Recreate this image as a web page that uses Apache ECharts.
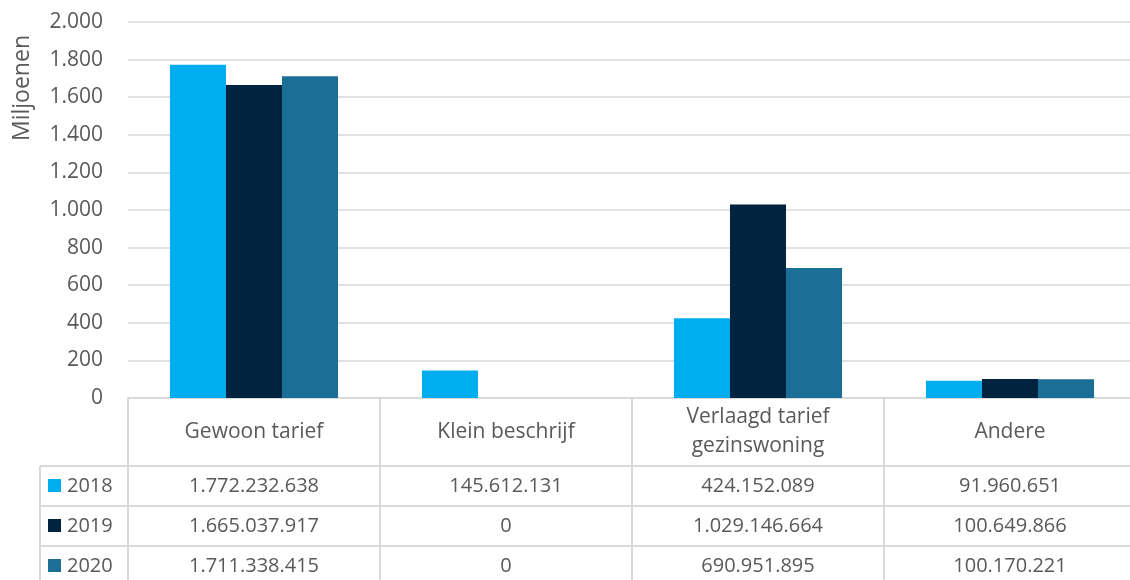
<!DOCTYPE html>
<html>
<head>
<meta charset="utf-8">
<script src="https://cdn.jsdelivr.net/npm/echarts@6/dist/echarts.min.js"></script>
<style>
html,body{margin:0;padding:0;background:#fff;}
#chart{width:1130px;height:580px;}
</style>
</head>
<body>
<div id="chart"></div>
<script>
const categories = ['Gewoon tarief', 'Klein beschrijf', 'Verlaagd tarief\ngezinswoning', 'Andere'];
const years = ['2018', '2019', '2020'];
const values2018 = [1772232638, 145612131, 424152089, 91960651];
const values2019 = [1665037917, 0, 1029146664, 100649866];
const values2020 = [1711338415, 0, 690951895, 100170221];
const colors = ['#00AEEF', '#00233F', '#1B6E96'];
const yMin = 0, yMax = 2000, yStep = 200;
const yName = 'Miljoenen';

const FONT = 'Open Sans';
const TXT = '#595959';
const LINE = '#D9D9D9';
const seriesValues = [values2018, values2019, values2020];

function fmt(n) {
  return String(Math.round(n)).replace(/\B(?=(\d{3})+(?!\d))/g, '.');
}

const chart = echarts.init(document.getElementById('chart'), null, {renderer: 'canvas'});

const gridLeft = 128, gridTop = 22, gridBottomY = 398, gridWidth = 1008;

chart.setOption({
  animation: false,
  textStyle: {fontFamily: FONT},
  grid: {left: gridLeft, top: gridTop, width: gridWidth, height: gridBottomY - gridTop,
         outerBoundsMode: 'none', containLabel: false},
  xAxis: {
    type: 'category',
    data: categories,
    axisLine: {show: true, lineStyle: {color: LINE, width: 2}},
    axisTick: {show: true, length: 182, lineStyle: {color: LINE, width: 2}},
    axisLabel: {
      color: TXT, fontFamily: FONT, fontSize: 21, lineHeight: 29,
      margin: 34, verticalAlign: 'middle', interval: 0
    }
  },
  yAxis: {
    type: 'value',
    min: yMin, max: yMax, interval: yStep,
    axisLine: {show: false},
    axisTick: {show: false},
    splitLine: {lineStyle: {color: LINE, width: 1.5}},
    axisLabel: {
      color: TXT, fontFamily: FONT, fontSize: 21, margin: 25,
      formatter: v => fmt(v)
    }
  },
  series: years.map((y, i) => ({
    name: y,
    type: 'bar',
    data: seriesValues[i].map(v => v / 1e6),
    itemStyle: {color: colors[i]},
    barGap: '0%',
    barCategoryGap: '33.3%'
  }))
});

// Data table under the chart
const rowLinesY = [466, 506, 546];
const rowCenters = [486, 526, 566];
const graphics = [];

// y-axis name
graphics.push({
  type: 'text', x: 22, y: 88, rotation: Math.PI / 2,
  style: {text: yName, fill: TXT, font: '23px "' + FONT + '"', align: 'center', verticalAlign: 'middle'}
});

rowLinesY.forEach(y => {
  graphics.push({type: 'line', shape: {x1: 40, y1: y, x2: gridLeft + gridWidth, y2: y},
    style: {stroke: LINE, lineWidth: 2}});
});
graphics.push({type: 'line', shape: {x1: 40, y1: rowLinesY[0], x2: 40, y2: 580},
  style: {stroke: LINE, lineWidth: 2}});

years.forEach((yr, r) => {
  const cy = rowCenters[r];
  graphics.push({type: 'rect', shape: {x: 48, y: cy - 7, width: 13, height: 13},
    style: {fill: colors[r]}});
  graphics.push({type: 'text', x: 67, y: cy,
    style: {text: yr, fill: TXT, font: '20px "' + FONT + '"', align: 'left', verticalAlign: 'middle'}});
  categories.forEach((c, k) => {
    const px = chart.convertToPixel({xAxisIndex: 0}, k);
    graphics.push({type: 'text', x: px, y: cy,
      style: {text: fmt(seriesValues[r][k]), fill: TXT, font: '20px "' + FONT + '"', align: 'center', verticalAlign: 'middle'}});
  });
});

chart.setOption({graphic: graphics});
</script>
</body>
</html>
